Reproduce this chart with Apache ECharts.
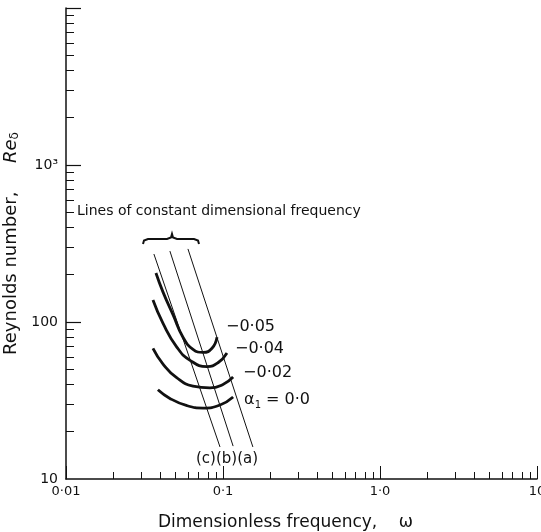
<!DOCTYPE html>
<html>
<head>
<meta charset="utf-8">
<script src="https://cdn.jsdelivr.net/npm/echarts@6/dist/echarts.min.js"></script>
<style>
  html, body { margin: 0; padding: 0; background: #fff; }
  #chart { width: 541px; height: 532px; }
</style>
</head>
<body>
<div id="chart"></div>
<script>
// axis ticks / labels
const xTickValues = [0.01, 0.1, 1, 10]
const xTickLabels = ['0·01', '0·1', '1·0', '10']
const xMinorTicks = [0.02, 0.03, 0.04, 0.05, 0.06, 0.07, 0.08, 0.09,
  0.2, 0.3, 0.4, 0.5, 0.6, 0.7, 0.8, 0.9, 2, 3, 4, 5, 6, 7, 8, 9]
const yTickValues = [10, 100, 1000]
const yTickLabels = ['10', '100', '10³']
const yMajorTicks = [100, 1000, 10000]
const yMinorTicks = [20, 30, 40, 50, 60, 70, 80, 90,
  200, 300, 400, 500, 600, 700, 800, 900,
  2000, 3000, 4000, 5000, 6000, 7000, 8000, 9000]

// lines of constant dimensional frequency (c), (b), (a)
const lineC = [[0.0363, 271], [0.0957, 16]]
const lineB = [[0.0459, 283], [0.116, 16.2]]
const lineA = [[0.0598, 292], [0.155, 16]]

// neutral curves for alpha1
const curve005 = [[0.0374, 205], [0.0415, 155], [0.0481, 111], [0.0556, 80], [0.0644, 67], [0.0747, 64], [0.0851, 68], [0.0916, 80]]
const curve004 = [[0.0358, 138], [0.0415, 98], [0.0509, 69], [0.0617, 57], [0.0791, 52], [0.0929, 55], [0.106, 63.5]]
const curve002 = [[0.0358, 68], [0.0415, 54], [0.0509, 44], [0.0644, 39], [0.0826, 38], [0.100, 40], [0.116, 44.6]]
const curve000 = [[0.0385, 37], [0.0459, 32.6], [0.059, 29.3], [0.0747, 28.3], [0.0957, 29.6], [0.116, 33.3]]

const font = 'DejaVu Sans'
const ink = '#111'

const pick = (vals, labels) => v => {
  for (let i = 0; i < vals.length; i++) {
    if (Math.abs(Math.log10(v) - Math.log10(vals[i])) < 1e-6) return labels[i]
  }
  return ''
}

const thin = data => ({
  type: 'line', data: data, showSymbol: false, silent: true,
  lineStyle: { color: ink, width: 1 }
})
const thick = (data, label, offset) => ({
  type: 'line', data: data, showSymbol: false, silent: true, smooth: 0.5,
  lineStyle: { color: ink, width: 2.8 },
  endLabel: {
    show: true, formatter: label, offset: offset, color: ink,
    fontFamily: font, fontSize: 16,
    rich: { s: { fontSize: 10, padding: [10, 0, 0, 0], fontFamily: font, color: ink } }
  }
})

const chart = echarts.init(document.getElementById('chart'))
chart.setOption({
  animation: false,
  textStyle: { fontFamily: font, color: ink },
  grid: { left: 66, right: 4, top: 8, bottom: 53, containLabel: false, outerBoundsMode: 'none' },
  xAxis: [
    {
      type: 'log', logBase: 10, min: 0.01, max: 10,
      name: 'Dimensionless frequency,    ω', nameLocation: 'middle', nameGap: 35,
      nameTextStyle: { fontFamily: font, fontSize: 17, color: ink, padding: [0, 32, 0, 0] },
      axisLine: { lineStyle: { color: ink, width: 1.5 } },
      axisTick: { inside: true, length: 13, customValues: xTickValues, lineStyle: { color: ink, width: 1 } },
      axisLabel: { customValues: xTickValues, formatter: pick(xTickValues, xTickLabels), fontFamily: font, fontSize: 13, color: ink, margin: 6 },
      splitLine: { show: false }
    },
    {
      type: 'log', logBase: 10, min: 0.01, max: 10, position: 'bottom',
      axisLine: { show: false },
      axisTick: { inside: true, length: 7, customValues: xMinorTicks, lineStyle: { color: ink, width: 1 } },
      axisLabel: { show: false },
      splitLine: { show: false }
    }
  ],
  yAxis: [
    {
      type: 'log', logBase: 10, min: 10, max: 10000,
      name: 'Reynolds number,     {i|Re}{s|δ}', nameLocation: 'middle', nameGap: 28, nameRotate: 90,
      nameTextStyle: {
        fontFamily: font, fontSize: 18, color: ink,
        rich: {
          i: { fontFamily: font, fontSize: 18, fontStyle: 'italic', color: ink },
          s: { fontFamily: font, fontSize: 12, color: ink, verticalAlign: 'bottom' }
        }
      },
      axisLine: { lineStyle: { color: ink, width: 1.5 } },
      axisTick: { inside: true, length: 15, customValues: yMajorTicks, lineStyle: { color: ink, width: 1.2 } },
      axisLabel: { customValues: yTickValues, formatter: pick(yTickValues, yTickLabels), fontFamily: font, fontSize: 14, color: ink, margin: 8 },
      splitLine: { show: false }
    },
    {
      type: 'log', logBase: 10, min: 10, max: 10000, position: 'left',
      axisLine: { show: false },
      axisTick: { inside: true, length: 8, customValues: yMinorTicks, lineStyle: { color: ink, width: 1 } },
      axisLabel: { show: false },
      splitLine: { show: false }
    }
  ],
  series: [
    thin(lineC), thin(lineB), thin(lineA),
    thick(curve005, '−0·05', [1, -10]),
    thick(curve004, '−0·04', [0, -4]),
    thick(curve002, '−0·02', [2, -4]),
    thick(curve000, 'α{s|1} = 0·0', [3, 3])
  ],
  graphic: [
    {
      type: 'text', left: 77, top: 204,
      style: { text: 'Lines of constant dimensional frequency', font: '14px "DejaVu Sans"', fill: ink }
    },
    {
      type: 'polyline',
      shape: { points: [[143, 244], [144, 240.5], [148, 239], [167, 239], [171, 237.5], [172, 234], [173, 237.5], [177, 239], [194, 239], [198, 240.5], [199, 244]] },
      style: { stroke: ink, lineWidth: 2, fill: null }
    },
    {
      type: 'text', left: 196, top: 452,
      style: { text: '(c)(b)(a)', font: '15px "DejaVu Sans"', fill: ink }
    }
  ]
})
</script>
</body>
</html>
